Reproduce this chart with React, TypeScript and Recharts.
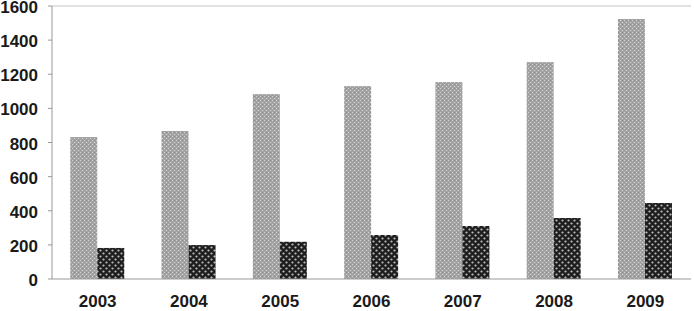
import React from 'react';
import { BarChart, Bar, XAxis, YAxis, ReferenceLine } from 'recharts';

const years = ['2003', '2004', '2005', '2006', '2007', '2008', '2009'];
const seriesA = [832, 867, 1084, 1131, 1154, 1272, 1524];
const seriesB = [182, 199, 219, 258, 311, 357, 445];
const yTicks = [0, 200, 400, 600, 800, 1000, 1200, 1400, 1600];
const boundaryTicks = [0, 1, 2, 3, 4, 5, 6, 7];

const data = years.map((y, i) => ({ year: y, a: seriesA[i], b: seriesB[i] }));

const font = { fontFamily: '"Liberation Sans", Arial, sans-serif', fontWeight: 700, fontSize: 17, fill: '#1a1a1a' };

export default function App() {
  return (
    <div style={{ position: 'absolute', left: 0, top: 0, background: '#fff' }}>
      <BarChart
        width={694}
        height={311}
        data={data}
        margin={{ top: 6, right: 3, bottom: 0, left: 0 }}
        barCategoryGap="20%"
        barGap={0}
      >
        <defs>
          <pattern id="patA" width="4" height="4" patternUnits="userSpaceOnUse">
            <rect width="4" height="4" fill="#a3a3a3" />
            <rect x="0" y="0" width="1" height="1" fill="#d4d4d4" />
            <rect x="2" y="2" width="1" height="1" fill="#d4d4d4" />
            <rect x="2" y="0" width="1" height="1" fill="#8c8c8c" />
          </pattern>
          <pattern id="patB" width="6" height="6" patternUnits="userSpaceOnUse">
            <rect width="6" height="6" fill="#1e1e1e" />
            <circle cx="1.5" cy="1.5" r="1.1" fill="#bdbdbd" />
            <circle cx="4.5" cy="4.5" r="1.1" fill="#bdbdbd" />
          </pattern>
        </defs>
        <XAxis
          xAxisId="grid"
          type="number"
          domain={[0, 7]}
          ticks={boundaryTicks}
          tickFormatter={() => ''}
          axisLine={false}
          tickLine={{ stroke: '#999' }}
          tickSize={4}
          height={0}
        />
        <XAxis
          dataKey="year"
          tickSize={0}
          tickMargin={16}
          axisLine={{ stroke: '#999' }}
          tick={font}
          height={32}
        />
        <YAxis
          domain={[0, 1600]}
          ticks={yTicks}
          interval={0}
          width={52}
          tickSize={4}
          tickMargin={10}
          axisLine={{ stroke: '#999' }}
          tickLine={{ stroke: '#999' }}
          tick={{ ...font, dy: 1 }}
        />
        <ReferenceLine y={1600} stroke="#c4c4c4" />
        <ReferenceLine xAxisId="grid" x={7} stroke="#c4c4c4" />
        <Bar dataKey="a" fill="url(#patA)" isAnimationActive={false} />
        <Bar dataKey="b" fill="url(#patB)" isAnimationActive={false} />
      </BarChart>
    </div>
  );
}
